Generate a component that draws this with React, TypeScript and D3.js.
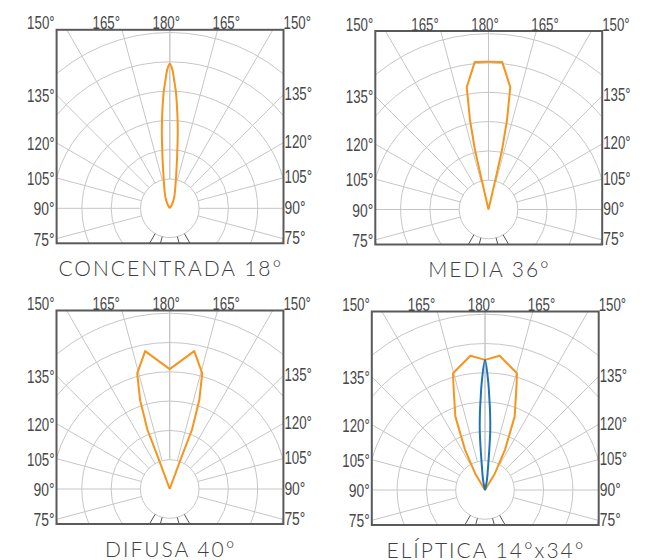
import React from "react";
import * as d3 from "d3";

// ---------- data ----------
const panelTitles = ["CONCENTRADA 18°", "MEDIA 36°", "DIFUSA 40°", "ELÍPTICA 14°x34°"];
const topTickLabels = ["150°", "165°", "180°", "165°", "150°"];
const sideTickAngles = [135, 120, 105, 90, 75];
const sideTickLabels = ["135°", "120°", "105°", "90°", "75°"];
const ringValues = [1, 2, 3, 4, 5, 6];
const gridGammas = [75, 90, 105, 120, 135, 150, 165, 180];
const darkGridGammas = [15, 30];

// half profiles: deviation from 180° (deg) and relative intensity (ring units)
const concentradaAngles = [0, 1, 2, 3, 4, 5, 6, 8, 10, 12, 15, 20, 25, 30, 35];
const concentradaValues = [4.93, 4.75, 4.35, 3.98, 3.5, 3.05, 2.6, 1.8, 1.3, 1.0, 0.72, 0.47, 0.28, 0.12, 0];

const mediaAngles = [0, 5.3, 10.1, 11.7, 12.8, 13.0, 14];
const mediaValues = [5.04, 5.06, 4.24, 3.11, 2.08, 1.03, 0];

const difusaAngles = [0, 10.1, 15.7, 18.4, 20.6, 20.2, 21];
const difusaValues = [4.09, 4.78, 4.1, 3.2, 2.16, 1.05, 0];

const elipticaWideAngles = [0, 6.2, 15.3, 16.5, 17.8, 22, 26.4, 30.8, 33];
const elipticaWideValues = [4.44, 4.61, 4.13, 3.8, 3.47, 2.7, 1.53, 0.66, 0];

const elipticaNarrowAngles = [0, 1.7, 2.7, 3.85, 5.1, 7.3, 11.3, 15];
const elipticaNarrowValues = [4.44, 3.7, 3.14, 2.6, 2.0, 0.87, 0.31, 0];

const ORANGE = "#f7941d";
const BLUE = "#1f74b8";

type Curve = { angles: number[]; values: number[]; color: string; smooth: boolean };

const panelCurves: Curve[][] = [
  [{ angles: concentradaAngles, values: concentradaValues, color: ORANGE, smooth: true }],
  [{ angles: mediaAngles, values: mediaValues, color: ORANGE, smooth: false }],
  [{ angles: difusaAngles, values: difusaValues, color: ORANGE, smooth: false }],
  [
    { angles: elipticaWideAngles, values: elipticaWideValues, color: ORANGE, smooth: false },
    { angles: elipticaNarrowAngles, values: elipticaNarrowValues, color: BLUE, smooth: true },
  ],
];

// ---------- layout ----------
const panelCenters = [
  { cx: 169.8, cy: 208.3 },
  { cx: 488.5, cy: 209.5 },
  { cx: 169.7, cy: 489 },
  { cx: 485, cy: 490 },
];
const FRAME_L = 113.2, FRAME_R = 113.7, FRAME_T = 178.5, FRAME_B = 35;

const labelFont = "'Liberation Sans', Arial, sans-serif";

function labelLen(s: string) {
  return s.length >= 4 ? 27.5 : 21;
}

function Panel({ idx }: { idx: number }) {
  const { cx, cy } = panelCenters[idx];
  const r = d3.scaleLinear().domain([0, 6]).range([0, 175.8]);
  const x0 = cx - FRAME_L, x1 = cx + FRAME_R, y0 = cy - FRAME_T, y1 = cy + FRAME_B;
  const clipId = `clip${idx}`;
  const toRad = (d: number) => (d * Math.PI) / 180;

  const radial = (gamma: number, side: number) => {
    const dev = toRad((180 - gamma) * side);
    const rin = r(1), rout = 320;
    return {
      x1: rin * Math.sin(dev), y1: -rin * Math.cos(dev),
      x2: rout * Math.sin(dev), y2: -rout * Math.cos(dev),
    };
  };

  const curves = panelCurves[idx].map((c) => {
    const half = c.angles.map((a, i) => [a, c.values[i]] as [number, number]);
    const left = half.slice(1).map(([a, v]) => [-a, v] as [number, number]).reverse();
    const pts = [...left, ...half];
    const gen = d3
      .lineRadial<[number, number]>()
      .angle((d) => toRad(d[0]))
      .radius((d) => r(d[1]))
      .curve(c.smooth ? d3.curveCatmullRom.alpha(0.5) : d3.curveLinear);
    return { d: gen(pts) || "", color: c.color };
  });

  const topCenters = [cx - 63.5, cx - 3.5, cx + 56.5];
  const topY = cy - 179;

  return (
    <g>
      <defs>
        <clipPath id={clipId}>
          <rect x={x0} y={y0} width={x1 - x0} height={y1 - y0} />
        </clipPath>
      </defs>
      <g clipPath={`url(#${clipId})`}>
        <g transform={`translate(${cx},${cy})`}>
          {ringValues.map((v) => (
            <circle key={v} r={r(v)} fill="none" stroke="#c6c6c6" strokeWidth={1} />
          ))}
          {gridGammas.flatMap((g) =>
            [-1, 1].map((s) => {
              const l = radial(g, s);
              return <line key={`${g}_${s}`} {...l} stroke="#c6c6c6" strokeWidth={1} />;
            })
          )}
          {darkGridGammas.flatMap((g) =>
            [-1, 1].map((s) => {
              const l = radial(g, s);
              return <line key={`d${g}_${s}`} {...l} stroke="#555" strokeWidth={1} />;
            })
          )}
          {curves.map((c, i) => (
            <path key={i} d={c.d} fill="none" stroke={c.color} strokeWidth={2} strokeLinejoin="round" />
          ))}
        </g>
      </g>
      <rect x={x0} y={y0} width={x1 - x0} height={y1 - y0} fill="none" stroke="#5a5a5a" strokeWidth={2} />
      <g fontFamily={labelFont} fontSize={18.5} fill="#484848">
        <text x={x0 - 2} y={topY} textAnchor="end" textLength={labelLen(topTickLabels[0])} lengthAdjust="spacingAndGlyphs">{topTickLabels[0]}</text>
        {topTickLabels.slice(1, 4).map((t, i) => (
          <text key={i} x={topCenters[i]} y={topY} textAnchor="middle" textLength={labelLen(t)} lengthAdjust="spacingAndGlyphs">{t}</text>
        ))}
        <text x={x1} y={topY} textAnchor="start" textLength={labelLen(topTickLabels[4])} lengthAdjust="spacingAndGlyphs">{topTickLabels[4]}</text>
        {sideTickAngles.map((g, i) => {
          const yl = cy - FRAME_L * Math.tan(toRad(g - 90));
          const yr = cy - FRAME_R * Math.tan(toRad(g - 90));
          const t = sideTickLabels[i];
          return (
            <g key={g}>
              <text x={x0 - 2} y={yl + 7} textAnchor="end" textLength={labelLen(t)} lengthAdjust="spacingAndGlyphs">{t}</text>
              <text x={x1 + 1} y={yr + 5.5} textAnchor="start" textLength={labelLen(t)} lengthAdjust="spacingAndGlyphs">{t}</text>
            </g>
          );
        })}
      </g>
      <text
        x={cx + 1}
        y={cy + 67.5}
        textAnchor="middle"
        fontFamily="Lato, 'Open Sans', sans-serif"
        fontWeight={300}
        fontSize={21}
        letterSpacing={2}
        fill="#404040"
      >
        {panelTitles[idx]}
      </text>
    </g>
  );
}

export default function App() {
  return (
    <svg
      width={652}
      height={560}
      viewBox="0 0 652 560"
      style={{ position: "absolute", left: 0, top: 0, background: "#fff" }}
    >
      <rect width={652} height={560} fill="#fff" />
      {panelTitles.map((_, i) => (
        <Panel key={i} idx={i} />
      ))}
    </svg>
  );
}
